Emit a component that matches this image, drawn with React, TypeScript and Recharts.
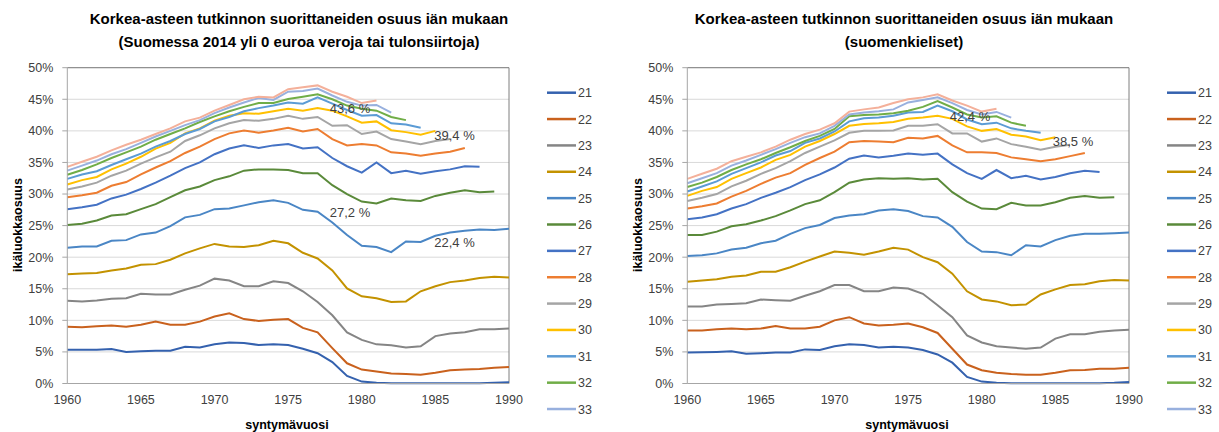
import React from 'react';
import { LineChart, Line, XAxis, YAxis, CartesianGrid, ReferenceLine, ReferenceDot } from 'recharts';

const YEARS = [1960, 1961, 1962, 1963, 1964, 1965, 1966, 1967, 1968, 1969, 1970, 1971, 1972, 1973, 1974, 1975, 1976, 1977, 1978, 1979, 1980, 1981, 1982, 1983, 1984, 1985, 1986, 1987, 1988, 1989, 1990];
const X_TICKS = [1960, 1965, 1970, 1975, 1980, 1985, 1990];
const Y_TICKS = [0, 5, 10, 15, 20, 25, 30, 35, 40, 45, 50];
const AGES = ['21', '22', '23', '24', '25', '26', '27', '28', '29', '30', '31', '32', '33', '34'];
const LEGEND_AGES = ['21', '22', '23', '24', '25', '26', '27', '28', '29', '30', '31', '32', '33'];
const COLORS = ['#3461AE', '#C9611D', '#858585', '#C39200', '#4A86C5', '#5A8A3A', '#4472C4', '#ED7D31', '#A5A5A5', '#FFC000', '#5B9BD5', '#70AD47', '#98B0DE', '#F4B09A'];

const n = null;
// Left panel: Suomessa 2014 yli 0 euroa veroja tai tulonsiirtoja
const L21 = [5.35, 5.35, 5.35, 5.45, 5.0, 5.1, 5.2, 5.2, 5.8, 5.7, 6.2, 6.5, 6.4, 6.1, 6.2, 6.1, 5.5, 4.8, 3.4, 1.2, 0.3, 0.1, 0.05, 0.05, 0.05, 0.05, 0.05, 0.05, 0.05, 0.1, 0.2];
const L22 = [9.0, 8.9, 9.05, 9.2, 9.0, 9.3, 9.8, 9.3, 9.3, 9.8, 10.6, 11.1, 10.2, 9.9, 10.1, 10.2, 8.8, 8.1, 5.6, 3.2, 2.2, 1.9, 1.6, 1.5, 1.4, 1.7, 2.1, 2.2, 2.3, 2.5, 2.6];
const L23 = [13.1, 13.0, 13.15, 13.4, 13.5, 14.2, 14.1, 14.1, 14.85, 15.5, 16.6, 16.3, 15.4, 15.4, 16.2, 15.9, 14.6, 12.9, 10.8, 8.1, 6.9, 6.2, 6.05, 5.7, 5.9, 7.5, 7.9, 8.1, 8.6, 8.6, 8.7];
const L24 = [17.3, 17.4, 17.5, 17.9, 18.2, 18.8, 18.9, 19.6, 20.6, 21.4, 22.1, 21.7, 21.6, 21.9, 22.6, 22.2, 20.7, 19.8, 17.9, 15.05, 13.8, 13.5, 12.9, 13.0, 14.6, 15.4, 16.05, 16.3, 16.7, 16.9, 16.8];
const L25 = [21.5, 21.7, 21.7, 22.6, 22.7, 23.6, 23.9, 24.9, 26.3, 26.7, 27.6, 27.7, 28.2, 28.7, 29.0, 28.6, 27.5, 27.2, 25.5, 23.5, 21.8, 21.6, 20.8, 22.5, 22.4, 23.4, 23.9, 24.2, 24.4, 24.3, 24.5];
const L26 = [25.1, 25.3, 25.8, 26.6, 26.8, 27.6, 28.4, 29.5, 30.6, 31.2, 32.2, 32.8, 33.7, 33.9, 33.9, 33.8, 33.3, 33.3, 31.4, 30.0, 28.8, 28.5, 29.3, 29.0, 28.9, 29.7, 30.2, 30.6, 30.3, 30.4, n];
const L27 = [27.6, 27.9, 28.3, 29.3, 29.9, 30.8, 31.8, 32.9, 34.1, 35.0, 36.3, 37.2, 37.7, 37.3, 37.7, 37.9, 37.2, 37.4, 35.7, 34.4, 33.4, 35.0, 33.3, 33.7, 33.2, 33.6, 33.9, 34.4, 34.3, n, n];
const L28 = [29.5, 29.8, 30.2, 31.3, 31.9, 33.1, 34.2, 35.2, 36.5, 37.5, 38.7, 39.6, 40.05, 39.7, 40.05, 40.5, 39.9, 40.3, 38.7, 37.7, 37.9, 37.7, 36.6, 36.4, 36.05, 36.4, 36.7, 37.3, n, n, n];
const L29 = [30.7, 31.2, 31.8, 32.9, 33.7, 34.8, 35.8, 36.7, 38.4, 39.3, 40.4, 41.2, 41.7, 41.6, 41.9, 42.4, 41.9, 42.2, 40.8, 40.9, 39.5, 39.9, 38.7, 38.3, 37.9, 38.4, 38.7, n, n, n, n];
const L30 = [31.5, 32.2, 32.7, 33.9, 34.8, 35.9, 37.2, 38.1, 39.6, 40.4, 41.6, 42.4, 42.8, 42.7, 43.1, 43.5, 43.2, 43.6, 43.2, 42.3, 41.3, 41.5, 40.1, 39.8, 39.4, 40.0, n, n, n, n, n];
const L31 = [32.4, 33.1, 33.6, 34.6, 35.5, 36.4, 37.5, 38.4, 39.5, 40.3, 41.5, 42.2, 43.1, 43.6, 44.0, 44.5, 44.3, 45.3, 44.3, 43.3, 42.4, 42.5, 41.2, 41.0, 40.5, n, n, n, n, n, n];
const L32 = [33.05, 33.8, 34.7, 35.7, 36.6, 37.5, 38.6, 39.5, 40.4, 41.4, 42.3, 43.1, 43.8, 44.4, 44.4, 45.05, 45.4, 45.8, 45.0, 44.0, 43.5, 43.2, 42.2, 41.7, n, n, n, n, n, n, n];
const L33 = [33.7, 34.5, 35.3, 36.3, 37.1, 38.1, 39.1, 40.0, 40.9, 41.7, 42.8, 43.7, 44.5, 45.2, 44.9, 46.2, 46.3, 46.7, 45.6, 44.6, 44.0, 44.1, 42.9, n, n, n, n, n, n, n, n];
const L34 = [34.3, 35.1, 35.9, 36.9, 37.8, 38.6, 39.5, 40.4, 41.5, 42.1, 43.2, 44.1, 45.0, 45.4, 45.3, 46.6, 46.9, 47.2, 46.2, 45.4, 44.4, 44.8, n, n, n, n, n, n, n, n, n];

// Right panel: suomenkieliset
const R21 = [4.9, 4.95, 5.0, 5.1, 4.7, 4.8, 4.9, 4.9, 5.4, 5.3, 5.9, 6.2, 6.1, 5.7, 5.8, 5.7, 5.3, 4.6, 3.3, 1.05, 0.3, 0.1, 0.05, 0.05, 0.05, 0.05, 0.05, 0.05, 0.05, 0.1, 0.25];
const R22 = [8.4, 8.4, 8.6, 8.7, 8.6, 8.7, 9.1, 8.7, 8.7, 9.0, 10.0, 10.5, 9.5, 9.2, 9.3, 9.5, 8.9, 8.0, 5.5, 3.0, 2.1, 1.7, 1.5, 1.4, 1.4, 1.7, 2.1, 2.15, 2.35, 2.35, 2.5];
const R23 = [12.2, 12.2, 12.5, 12.6, 12.7, 13.3, 13.2, 13.1, 13.9, 14.6, 15.6, 15.6, 14.6, 14.6, 15.2, 15.05, 14.2, 12.4, 10.5, 7.6, 6.5, 5.9, 5.7, 5.5, 5.7, 7.1, 7.8, 7.8, 8.2, 8.4, 8.5];
const R24 = [16.1, 16.3, 16.5, 16.9, 17.1, 17.7, 17.7, 18.4, 19.3, 20.1, 20.9, 20.7, 20.4, 20.9, 21.5, 21.2, 20.0, 19.2, 17.4, 14.6, 13.3, 13.0, 12.4, 12.5, 14.1, 14.9, 15.6, 15.7, 16.2, 16.4, 16.3];
const R25 = [20.2, 20.3, 20.6, 21.2, 21.5, 22.2, 22.6, 23.7, 24.6, 25.1, 26.2, 26.6, 26.8, 27.4, 27.6, 27.3, 26.5, 26.3, 24.8, 22.4, 20.9, 20.8, 20.3, 21.9, 21.7, 22.7, 23.4, 23.7, 23.7, 23.8, 23.9];
const R26 = [23.5, 23.5, 24.05, 24.9, 25.2, 25.8, 26.5, 27.4, 28.4, 29.0, 30.3, 31.8, 32.3, 32.5, 32.4, 32.5, 32.3, 32.4, 30.3, 28.8, 27.7, 27.6, 28.6, 28.2, 28.2, 28.7, 29.4, 29.7, 29.4, 29.5, n];
const R27 = [26.0, 26.3, 26.8, 27.7, 28.4, 29.4, 30.2, 31.1, 32.2, 33.1, 34.2, 35.6, 36.1, 35.8, 36.05, 36.4, 36.2, 36.4, 34.7, 33.3, 32.4, 33.8, 32.5, 32.9, 32.3, 32.7, 33.3, 33.7, 33.5, n, n];
const R28 = [27.7, 28.05, 28.5, 29.6, 30.5, 31.6, 32.6, 33.3, 34.6, 35.7, 36.7, 38.2, 38.4, 38.3, 38.2, 38.9, 38.8, 39.2, 37.7, 36.6, 36.6, 36.5, 35.8, 35.5, 35.2, 35.5, 36.0, 36.5, n, n, n];
const R29 = [28.9, 29.4, 30.0, 31.2, 32.1, 33.2, 34.1, 35.2, 36.5, 37.5, 38.5, 39.7, 40.0, 40.0, 40.05, 40.8, 40.8, 41.05, 39.6, 39.6, 38.3, 38.8, 37.9, 37.5, 37.0, 37.5, 37.8, n, n, n, n];
const R30 = [29.7, 30.5, 31.1, 32.4, 33.3, 34.2, 35.4, 36.2, 37.5, 38.4, 39.5, 40.8, 41.1, 41.2, 41.4, 41.9, 42.1, 42.4, 41.9, 40.7, 40.0, 40.3, 39.4, 39.1, 38.5, 39.0, n, n, n, n, n];
const R31 = [30.4, 31.2, 32.0, 33.2, 34.1, 35.0, 36.1, 36.8, 38.1, 38.8, 39.9, 41.5, 42.0, 42.1, 42.4, 42.9, 43.0, 44.0, 43.1, 41.8, 41.05, 41.3, 40.4, 40.0, 39.7, n, n, n, n, n, n];
const R32 = [31.1, 31.8, 32.7, 33.8, 34.7, 35.5, 36.5, 37.4, 38.4, 39.2, 40.3, 42.3, 42.5, 42.6, 42.8, 43.2, 43.8, 44.7, 43.7, 42.6, 42.1, 42.3, 41.3, 40.8, n, n, n, n, n, n, n];
const R33 = [31.7, 32.5, 33.3, 34.5, 35.3, 36.2, 37.1, 38.1, 39.0, 39.6, 40.8, 42.6, 42.9, 43.1, 43.4, 44.5, 44.9, 45.3, 44.4, 43.3, 42.6, 43.0, 42.1, n, n, n, n, n, n, n, n];
const R34 = [32.4, 33.2, 34.0, 35.2, 35.9, 36.6, 37.5, 38.6, 39.5, 40.2, 41.2, 43.05, 43.4, 43.7, 44.4, 45.0, 45.3, 45.8, 44.8, 44.0, 43.05, 43.5, n, n, n, n, n, n, n, n, n];

const LEFT_SERIES = [L21, L22, L23, L24, L25, L26, L27, L28, L29, L30, L31, L32, L33, L34];
const RIGHT_SERIES = [R21, R22, R23, R24, R25, R26, R27, R28, R29, R30, R31, R32, R33, R34];

const LEFT_TITLE = ['Korkea-asteen tutkinnon suorittaneiden osuus iän mukaan', '(Suomessa 2014 yli 0 euroa veroja tai tulonsiirtoja)'];
const RIGHT_TITLE = ['Korkea-asteen tutkinnon suorittaneiden osuus iän mukaan', '(suomenkieliset)'];

const LEFT_LABELS = [
  { x: 1979.2, y: 43.6, text: '43,6 %' },
  { x: 1986.3, y: 39.3, text: '39,4 %' },
  { x: 1979.2, y: 27.1, text: '27,2 %' },
  { x: 1986.3, y: 22.4, text: '22,4 %' },
];
const RIGHT_LABELS = [
  { x: 1979.2, y: 42.3, text: '42,4 %' },
  { x: 1986.2, y: 38.4, text: '38,5 %' },
];

const X_TITLE = 'syntymävuosi';
const Y_TITLE = 'ikäluokkaosuus';

const FONT = '"Liberation Sans", Arial, sans-serif';
const TITLE_FONT = '"Liberation Sans Narrow", "Arial Narrow", "Liberation Sans", sans-serif';

function buildRows(series: (number | null)[][]) {
  return YEARS.map((year, i) => {
    const row: Record<string, number | null> = { year };
    AGES.forEach((a, k) => {
      row['a' + a] = series[k][i];
    });
    return row;
  });
}

type PanelProps = {
  left: number;
  series: (number | null)[][];
  title: string[];
  titleCenter: number;
  labels: { x: number; y: number; text: string }[];
};

function Panel({ left, series, title, titleCenter, labels }: PanelProps) {
  const rows = buildRows(series);
  return (
    <div style={{ position: 'absolute', left, top: 0, width: 609, height: 432 }}>
      <LineChart width={609} height={432} data={rows} margin={{ top: 67.7, right: 100, bottom: 18.5, left: 0 }}>
        <CartesianGrid horizontal vertical={false} stroke="#D9D9D9" strokeWidth={1} />
        <XAxis
          dataKey="year"
          type="number"
          domain={[1960, 1990]}
          ticks={X_TICKS}
          allowDecimals={false}
          height={30}
          tickLine={false}
          tickSize={6}
          tickMargin={6}
          axisLine={{ stroke: '#A6A6A6' }}
          tick={{ fill: '#404040', fontSize: 12.5, fontFamily: FONT }}
          interval={0}
        />
        <YAxis
          type="number"
          domain={[0, 50]}
          ticks={Y_TICKS}
          width={67.3}
          tickSize={5}
          tickMargin={9}
          interval={0}
          tickLine={{ stroke: '#A6A6A6' }}
          axisLine={{ stroke: '#A6A6A6' }}
          tickFormatter={(v: number) => `${v}%`}
          tick={{ fill: '#404040', fontSize: 12.5, fontFamily: FONT }}
        />
        <ReferenceLine y={50} stroke="#7F7F7F" strokeWidth={1} ifOverflow="extendDomain" />
        <ReferenceLine x={1990} stroke="#7F7F7F" strokeWidth={1} />
        {AGES.map((a, k) => (
          <Line
            key={a}
            type="linear"
            dataKey={'a' + a}
            stroke={COLORS[k]}
            strokeWidth={2}
            dot={false}
            activeDot={false}
            isAnimationActive={false}
            connectNulls={false}
          />
        ))}
        {labels.map((l) => (
          <ReferenceDot
            key={l.text}
            x={l.x}
            y={l.y}
            r={0}
            fill="none"
            stroke="none"
            label={{ value: l.text, position: 'center', fill: '#404040', fontSize: 13, fontFamily: FONT }}
          />
        ))}
      </LineChart>
      <svg width={609} height={432} style={{ position: 'absolute', left: 0, top: 0, pointerEvents: 'none' }}>
        <text x={titleCenter} y={24} textAnchor="middle" fontFamily={TITLE_FONT} fontWeight="bold" fontSize={15} fill="#000">
          {title[0]}
        </text>
        <text x={titleCenter} y={47} textAnchor="middle" fontFamily={TITLE_FONT} fontWeight="bold" fontSize={15} fill="#000">
          {title[1]}
        </text>
        <text x={287} y={429} textAnchor="middle" fontFamily={FONT} fontWeight="bold" fontSize={12.5} fill="#000">
          {X_TITLE}
        </text>
        <text
          x={22}
          y={225}
          textAnchor="middle"
          fontFamily={FONT}
          fontWeight="bold"
          fontSize={12.5}
          fill="#000"
          transform="rotate(-90 22 225)"
        >
          {Y_TITLE}
        </text>
        {LEGEND_AGES.map((a, k) => {
          const y = 92.7 + k * 26.36;
          return (
            <g key={a}>
              <line x1={547} x2={576} y1={y} y2={y} stroke={COLORS[k]} strokeWidth={2.5} />
              <text x={578} y={y + 4.5} fontFamily={FONT} fontSize={12.5} fill="#404040">
                {a}
              </text>
            </g>
          );
        })}
      </svg>
    </div>
  );
}

export default function App() {
  return (
    <div style={{ position: 'absolute', left: 0, top: 0, width: 1219, height: 432, background: '#fff' }}>
      <Panel left={0} series={LEFT_SERIES} title={LEFT_TITLE} titleCenter={299} labels={LEFT_LABELS} />
      <Panel left={620} series={RIGHT_SERIES} title={RIGHT_TITLE} titleCenter={284} labels={RIGHT_LABELS} />
    </div>
  );
}
